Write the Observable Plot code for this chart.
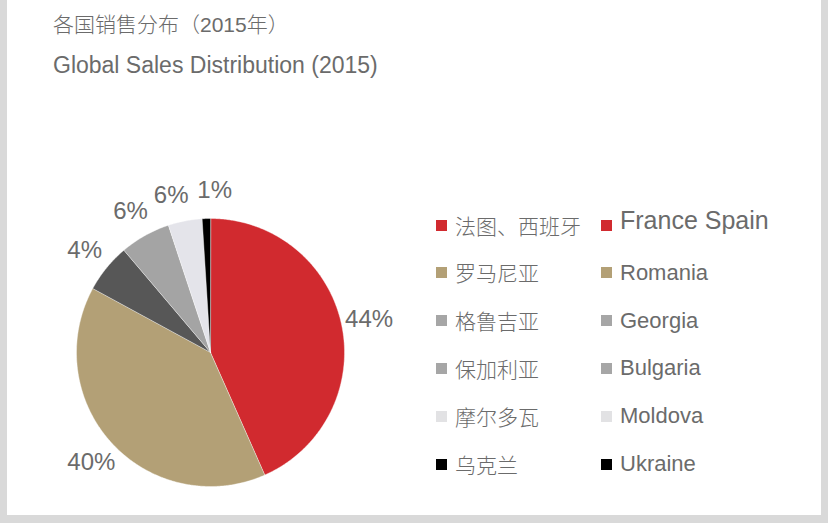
<!DOCTYPE html>
<html>
<head>
<meta charset="utf-8">
<script src="https://cdn.jsdelivr.net/npm/d3@7"></script>
<script src="https://cdn.jsdelivr.net/npm/@observablehq/plot@0.6"></script>
<style>
  html, body { margin: 0; padding: 0; }
  body { width: 828px; height: 523px; background: #d9d9d9; position: relative; overflow: hidden;
         font-family: "Liberation Sans", "Noto Sans CJK SC", sans-serif; color: #6b6b6b; }
  #panel { position: absolute; left: 7px; top: 0; width: 814px; height: 515px; background: #ffffff; }
  .title { position: absolute; left: 53px; white-space: nowrap; line-height: 1; }
  #chart { position: absolute; left: 0; top: 90px; }
  .lg { position: absolute; white-space: nowrap; line-height: 1; display: flex; align-items: center; }
  .sw { width: 11px; height: 11px; margin-right: 8px; flex: none; }
</style>
</head>
<body>
<div id="panel"></div>
<div class="title" style="top:14px; font-size:21px; font-weight:300; font-family:'Liberation Sans','Noto Sans CJK SC', sans-serif;">各国销售分布（2015年）</div>
<div class="title" style="top:54px; font-size:23px;">Global Sales Distribution (2015)</div>
<div id="chart"></div>
<div id="legend"></div>
<script>
// ---- data ----
const namesEn = ["France Spain", "Romania", "Georgia", "Bulgaria", "Moldova", "Ukraine"];
const namesZh = ["法图、西班牙", "罗马尼亚", "格鲁吉亚", "保加利亚", "摩尔多瓦", "乌克兰"];
const shares = [43.4, 39.6, 5.9, 6.1, 4.1, 1.0];
const labels = ["44%", "40%", "4%", "6%", "6%", "1%"];
const sliceColors = ["#d12a2f", "#b3a076", "#575757", "#a4a4a4", "#e4e4ea", "#000000"];
const legendColors = ["#d12a2f", "#b3a076", "#a6a6a6", "#a6a6a6", "#e2e2e4", "#000000"];

// ---- geometry from data ----
const total = d3.sum(shares);
const slices = [];
let acc = 0;
shares.forEach((v, i) => {
  const a0 = acc / total * 2 * Math.PI;
  acc += v;
  const a1 = acc / total * 2 * Math.PI;
  slices.push({name: namesEn[i], a0, a1, color: sliceColors[i], label: labels[i], m: (a0 + a1) / 2});
});
const poly = [];
for (const s of slices) {
  poly.push({name: s.name, x: 0, y: 0, color: s.color});
  const n = Math.max(2, Math.ceil((s.a1 - s.a0) / (Math.PI / 360)));
  for (let k = 0; k <= n; k++) {
    const a = s.a0 + (s.a1 - s.a0) * k / n;
    poly.push({name: s.name, x: Math.sin(a), y: Math.cos(a), color: s.color});
  }
}
// label angles: spread apart so neighbouring labels don't collide
const ang = slices.map(s => s.m);
const minGap = 15.5 * Math.PI / 180;
for (let it = 0; it < 50; it++) {
  for (let i = 0; i < ang.length - 1; i++) {
    const d = ang[i + 1] - ang[i];
    if (d < minGap) {
      const push = (minGap - d) / 2;
      ang[i] -= push; ang[i + 1] += push;
    }
  }
}
const labelR = 1.21;
const labelPts = slices.map((s, i) => ({label: s.label, x: labelR * Math.sin(ang[i]), y: labelR * Math.cos(ang[i])}));

const W = 828, H = 425, R = 134, cx = 210, cy = 262;
const plot = Plot.plot({
  width: W,
  height: H,
  marginLeft: cx - R,
  marginRight: W - cx - R,
  marginTop: cy - R,
  marginBottom: H - cy - R,
  x: {domain: [-1, 1], axis: null},
  y: {domain: [-1, 1], axis: null},
  color: {type: "identity"},
  style: {background: "transparent", overflow: "visible"},
  marks: [
    Plot.line(poly, {x: "x", y: "y", z: "name", fill: "color", stroke: "#ffffff", strokeWidth: 0.4, curve: "linear-closed"}),
    Plot.text(labelPts, {x: "x", y: "y", text: "label", fontSize: 24, fill: "#6b6b6b",
      fontFamily: "Liberation Sans, sans-serif", textAnchor: "middle"})
  ]
});
document.getElementById("chart").appendChild(plot);

// ---- legend ----
const legend = document.getElementById("legend");
namesZh.forEach((zh, i) => {
  const top = 225 + i * 47.8;
  const a = document.createElement("div");
  a.className = "lg";
  a.style.left = "436px"; a.style.top = (top - 11) + "px"; a.style.height = "22px";
  a.innerHTML = `<span class="sw" style="background:${legendColors[i]}"></span><span style="font-family:'Noto Sans CJK SC',sans-serif;font-size:21px;font-weight:300;">${zh}</span>`;
  legend.appendChild(a);
  const b = document.createElement("div");
  b.className = "lg";
  b.style.left = "601px"; b.style.top = (top - 11) + "px"; b.style.height = "22px";
  const fs = i === 0 ? 25 : 22;
  const shift = i === 0 ? -5 : 0;
  b.innerHTML = `<span class="sw" style="background:${legendColors[i]}"></span><span style="font-size:${fs}px;position:relative;top:${shift}px;">${namesEn[i]}</span>`;
  legend.appendChild(b);
});
</script>
</body>
</html>
